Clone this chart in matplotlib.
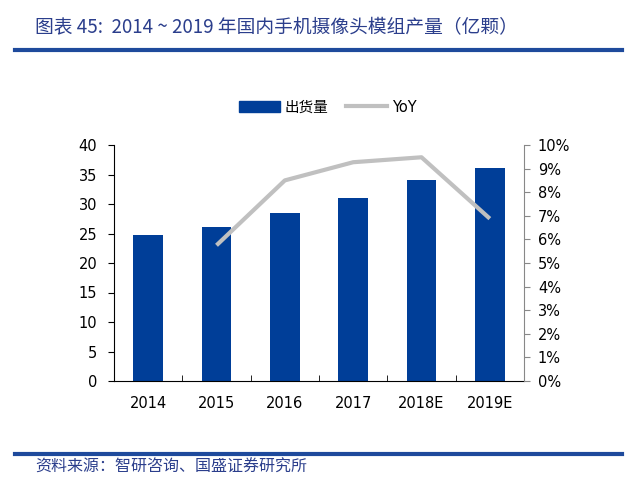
import matplotlib
matplotlib.use("Agg")
import matplotlib.pyplot as plt
from matplotlib.lines import Line2D
from matplotlib.patches import Patch
from matplotlib.ticker import FuncFormatter, MultipleLocator

plt.rcParams['font.family'] = ['DejaVu Sans', 'Noto Sans CJK SC']

categories = ["2014", "2015", "2016", "2017", "2018E", "2019E"]
shipments = [24.7, 26.1, 28.5, 31.0, 34.0, 36.1]
yoy_cats = ["2015", "2016", "2017", "2018E", "2019E"]
yoy = [5.75, 8.5, 9.27, 9.48, 6.88]

title = "图表 45:  2014 ~ 2019 年国内手机摄像头模组产量（亿颗）"
source = "资料来源：智研咨询、国盛证券研究所"
bar_label = "出货量"
line_label = "YoY"

BLUE = "#003E98"
GRAY = "#C0C0C0"
TITLE_BLUE = "#2B3E8C"

fig = plt.figure(figsize=(6.4, 4.93), dpi=100)
ax = fig.add_axes([114/640, 1 - 381/493, (524-114)/640, (381-145)/493])
x = list(range(len(categories)))
ax.bar(x, shipments, width=0.43, color=BLUE, zorder=2)
ax.set_xlim(-0.5, len(categories) - 0.5)
ax.set_ylim(0, 40)
ax.yaxis.set_major_locator(MultipleLocator(5))
ax.set_xticks(x)
ax.set_xticklabels(categories)
ax.set_xticks([i + 0.5 for i in x[:-1]], minor=True)
ax.tick_params(axis='x', which='major', length=0, pad=11, labelsize=10.5)
ax.tick_params(axis='x', which='minor', direction='in', length=4, color='black')
ax.tick_params(axis='y', direction='out', length=4, labelsize=10.5, pad=8)
for s in ['top', 'right']:
    ax.spines[s].set_visible(False)
ax.spines['left'].set_color('black')
ax.spines['bottom'].set_color('black')

ax2 = ax.twinx()
xi = [categories.index(c) for c in yoy_cats]
ax2.plot(xi, yoy, color=GRAY, lw=3, solid_capstyle='butt', zorder=3)
ax2.set_ylim(0, 10)
ax2.yaxis.set_major_locator(MultipleLocator(1))
ax2.yaxis.set_major_formatter(FuncFormatter(lambda v, p: f"{v:.0f}%"))
ax2.tick_params(axis='y', direction='out', length=4, labelsize=10.5, pad=6, color='#888888')
for s in ['top', 'left', 'bottom']:
    ax2.spines[s].set_visible(False)
ax2.spines['right'].set_color('#888888')

handles = [Patch(color=BLUE), Line2D([0], [0], color=GRAY, lw=3)]
fig.legend(handles, [bar_label, line_label], loc='center', bbox_to_anchor=(328/640, 1 - 107/493),
           ncol=2, frameon=False, handlelength=2.8, handleheight=0.8,
           columnspacing=1.2, handletextpad=0.35,
           prop={'family': ['DejaVu Sans', 'Noto Sans CJK SC'], 'size': 10.5})

fig.text(35/640, 1 - 28/493, title, fontsize=13.5, color=TITLE_BLUE, style='italic',
         va='center', ha='left', family=['Noto Sans CJK SC', 'DejaVu Sans'])
fig.add_artist(Line2D([15/640, 622/640], [1 - 50/493, 1 - 50/493], color="#1E4A9C", lw=3))
fig.add_artist(Line2D([15/640, 622/640], [1 - 454/493, 1 - 454/493], color="#1E4A9C", lw=3))
fig.text(35/640, 1 - 467/493, source, fontsize=11.5, color=TITLE_BLUE, style='italic',
         va='center', ha='left', family=['Noto Sans CJK SC', 'DejaVu Sans'])

fig.savefig("out.png", dpi=100)
